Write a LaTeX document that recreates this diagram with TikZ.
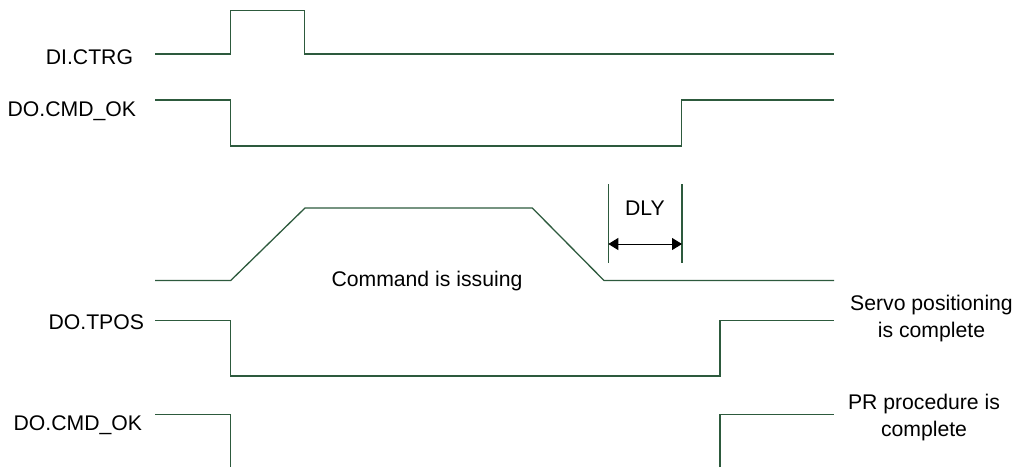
\documentclass[tikz,border=0pt]{standalone}
\usepackage{fontspec}
\setmainfont{Liberation Sans}
\usetikzlibrary{arrows.meta}
\definecolor{wavec}{HTML}{2D5A3D}
\begin{document}
\begin{tikzpicture}[x=1pt,y=-1pt,
  wave/.style={draw=wavec,line width=1.3pt,line join=miter},
  lbl/.style={font=\fontsize{21.2}{26.7}\selectfont,inner sep=0pt,outer sep=0pt},
  dlyarrow/.style={draw=black,line width=1pt,{Triangle[length=10pt,width=12pt]}-{Triangle[length=10pt,width=12pt]}}
]
\useasboundingbox (0,0) rectangle (1016,467);
% labels
\node[lbl,anchor=base east] (lctrg) at (133,64) {DI.CTRG};
\node[lbl,anchor=base east] (lcmd1) at (136,116.5) {DO.CMD\_OK};
\node[lbl,anchor=base east] (ltpos) at (144,329.3) {DO.TPOS};
\node[lbl,anchor=base east] (lcmd2) at (142,430) {DO.CMD\_OK};
\node[lbl,anchor=base west] (lcmdi) at (331.5,286.7) {Command is issuing};
\node[lbl,anchor=base] (ldly) at (645,215) {DLY};
\node[lbl,anchor=base,align=center] (lservo) at (931.5,337.3) {Servo positioning\\is complete};
\node[lbl,anchor=base,align=center] (lpr) at (924,436.5) {PR procedure is\\complete};
% DI.CTRG
\draw[wave] (155,54) -- (230.7,54) -- (230.7,10.3) -- (304.7,10.3) -- (304.7,54) -- (834,54);
% DO.CMD_OK 1
\draw[wave] (155,100) -- (230.7,100) -- (230.7,146) -- (681.7,146) -- (681.7,100) -- (834,100);
% command profile
\draw[wave] (155,280.5) -- (230.7,280.5) -- (305,208) -- (532.3,208) -- (604,280.5) -- (834,280.5);
% DLY markers
\coordinate (d1t) at (608.3,184.3);
\coordinate (d1b) at (608.3,262.7);
\coordinate (d2t) at (682,184.3);
\coordinate (d2b) at (682,262.7);
\draw[wave] (d1t) -- (d1b);
\draw[wave] (d2t) -- (d2b);
\coordinate (a1) at (608.3,244);
\coordinate (a2) at (682,244);
\draw[dlyarrow] (a1) -- (a2);
% DO.TPOS
\draw[wave] (155,320.3) -- (230.7,320.3) -- (230.7,376) -- (720,376) -- (720,320.3) -- (834,320.3);
% DO.CMD_OK 2
\draw[wave] (155,414.5) -- (230.7,414.5) -- (230.7,467);
\draw[wave] (720,467) -- (720,414.5) -- (834,414.5);
\end{tikzpicture}
\end{document}
